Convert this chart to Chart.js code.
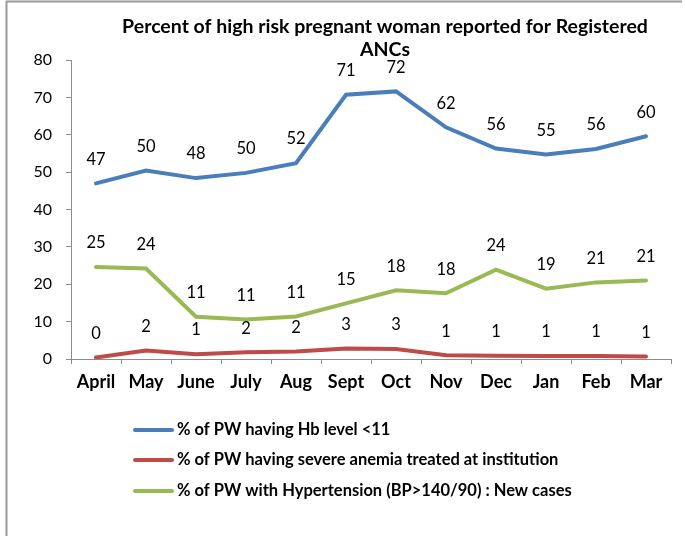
<!DOCTYPE html>
<html>
<head>
<meta charset="utf-8">
<script src="https://cdn.jsdelivr.net/npm/chart.js@4/dist/chart.umd.min.js"></script>
<style>
html,body{margin:0;padding:0;background:#fff;}
#wrap{position:relative;width:685px;height:536px;}
</style>
</head>
<body>
<div id="wrap"><canvas id="c" width="685" height="536"></canvas></div>
<script>
const months = ["April","May","June","July","Aug","Sept","Oct","Nov","Dec","Jan","Feb","Mar"];
const hbLow = [47.0, 50.4, 48.4, 49.8, 52.4, 70.7, 71.6, 62.0, 56.3, 54.7, 56.2, 59.6];
const severeAnemia = [0.4, 2.3, 1.3, 1.8, 2.0, 2.8, 2.7, 1.0, 0.9, 0.8, 0.8, 0.7];
const hypertension = [24.6, 24.2, 11.3, 10.6, 11.4, 14.9, 18.4, 17.6, 23.9, 18.8, 20.5, 21.0];
const seriesNames = [
  "% of PW having Hb level <11",
  "% of PW having severe anemia treated at institution",
  "% of PW with Hypertension (BP>140/90) : New cases"
];
const yTicks = [0,10,20,30,40,50,60,70,80];
const titleLines = ["Percent of high risk pregnant woman reported for Registered","ANCs"];

const colors = ["#4a7ebb","#be4b48","#98b954"];
const FONT = "Lato, 'Open Sans', sans-serif";

const overlay = {
  id: "overlay",
  afterDraw(chart) {
    const ctx = chart.ctx;
    ctx.save();
    // frame
    ctx.strokeStyle = "#9a9a9a";
    ctx.lineWidth = 2;
    ctx.beginPath();
    ctx.moveTo(6.5, 536); ctx.lineTo(6.5, 1.5); ctx.lineTo(682, 1.5);
    ctx.stroke();
    // title
    ctx.fillStyle = "#000";
    ctx.font = "bold 19.5px " + FONT;
    ctx.textAlign = "center";
    ctx.textBaseline = "middle";
    ctx.fillText(titleLines[0], 385, 27);
    ctx.fillText(titleLines[1], 385, 50);
    // data labels
    ctx.font = "16.5px " + FONT;
    chart.data.datasets.forEach((ds, i) => {
      const meta = chart.getDatasetMeta(i);
      meta.data.forEach((pt, j) => {
        ctx.fillText(String(Math.round(ds.data[j])), pt.x, pt.y - 24);
      });
    });
    // legend
    ctx.textAlign = "left";
    ctx.font = "bold 16.5px " + FONT;
    const ly = [430, 460, 491];
    seriesNames.forEach((n, i) => {
      ctx.strokeStyle = colors[i];
      ctx.lineWidth = 4;
      ctx.lineCap = "round";
      ctx.beginPath();
      ctx.moveTo(135, ly[i]); ctx.lineTo(172, ly[i]);
      ctx.stroke();
      ctx.fillStyle = "#000";
      ctx.fillText(n, 177, ly[i]);
    });
    ctx.restore();
  }
};

new Chart(document.getElementById("c"), {
  type: "line",
  data: {
    labels: months,
    datasets: [hbLow, severeAnemia, hypertension].map((d, i) => ({
      label: seriesNames[i],
      data: d,
      borderColor: colors[i],
      backgroundColor: colors[i],
      borderWidth: 4,
      pointRadius: 0,
      tension: 0,
      borderCapStyle: "round"
    }))
  },
  options: {
    responsive: false,
    animation: false,
    devicePixelRatio: 1,
    layout: { padding: { top: 60, right: 14, bottom: 0, left: 0 } },
    plugins: { legend: { display: false }, title: { display: false }, tooltip: { enabled: false } },
    scales: {
      x: {
        offset: true,
        grid: { display: true, offset: true, drawOnChartArea: false, tickLength: 5, color: "#8c8c8c" },
        border: { color: "#8c8c8c", width: 1 },
        ticks: { color: "#000", font: { family: FONT, size: 18, weight: "bold" }, padding: 7, maxRotation: 0, autoSkip: false },
        afterFit(s) { s.height = 177; }
      },
      y: {
        min: 0, max: 80,
        afterBuildTicks(s) { s.ticks = yTicks.map(v => ({ value: v })); },
        grid: { display: true, drawOnChartArea: false, tickLength: 5, color: "#8c8c8c" },
        border: { color: "#8c8c8c", width: 1 },
        ticks: { color: "#000", font: { family: FONT, size: 16 }, padding: 14 },
        afterFit(s) { s.width = 71; }
      }
    }
  },
  plugins: [overlay]
});
</script>
</body>
</html>
